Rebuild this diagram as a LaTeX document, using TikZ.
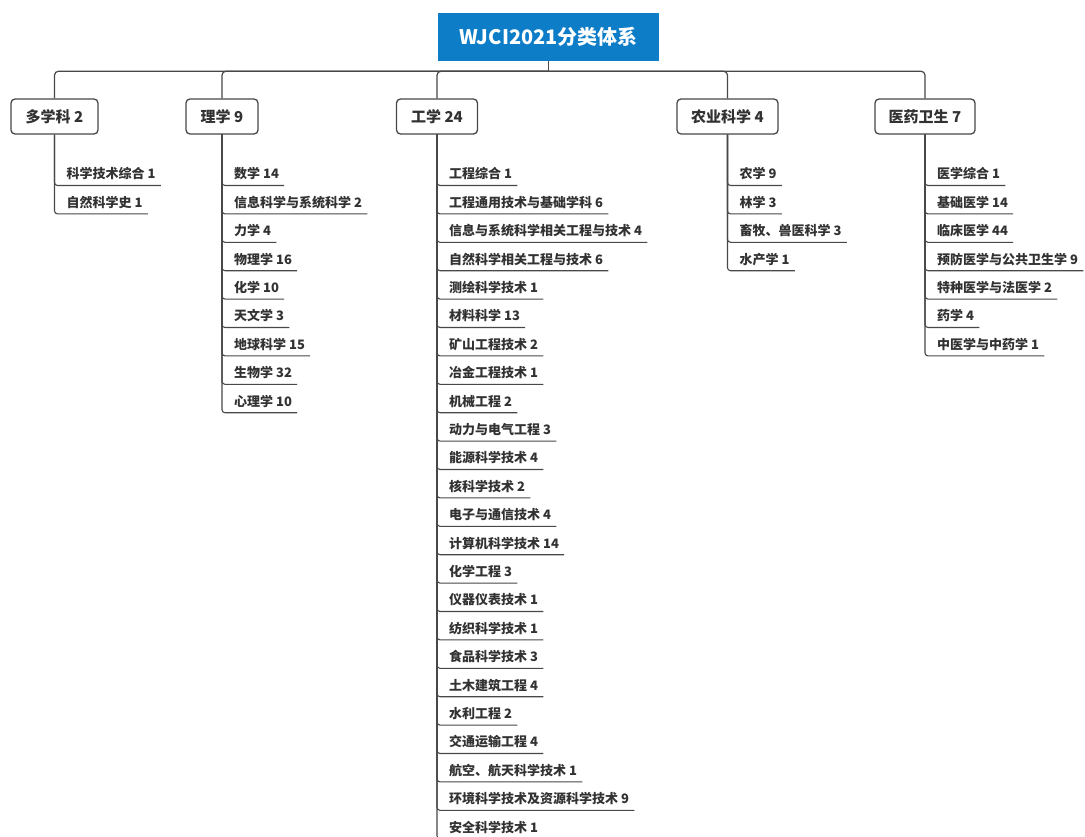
\documentclass[tikz,border=0pt]{standalone}
\usepackage{fontspec}
\setmainfont{Noto Sans CJK SC}
\definecolor{rootblue}{RGB}{14,125,200}
\definecolor{ink}{RGB}{50,50,50}
\definecolor{linec}{RGB}{72,72,72}
\begin{document}
\begin{tikzpicture}[x=1pt,y=-1pt,
  rootbox/.style={fill=rootblue, text=white, font=\fontsize{20}{24}\selectfont\bfseries,
    minimum width=221pt, minimum height=48pt, inner sep=0pt},
  topic/.style={draw=linec, line width=1.3pt, rounded corners=4pt, fill=white, text=ink,
    font=\fontsize{15}{18}\selectfont\bfseries, inner xsep=6pt, minimum height=35pt},
  leaf/.style={text=ink, font=\fontsize{13}{16}\selectfont\bfseries, inner xsep=5pt,
    inner ysep=3.5pt, text height=10pt, text depth=3pt, anchor=south west},
  conn/.style={draw=linec, line width=1.2pt, rounded corners=4pt},
  under/.style={draw=linec, line width=1.1pt, rounded corners=3pt}]
\useasboundingbox[fill=white] (0,0) rectangle (1085,836);

\node[rootbox] (root) at (548.5,37) {WJCI2021分类体系};
\draw[conn] (root.south) -- ++(0,10) coordinate (bus);

\node[topic, minimum width=87pt]  (t1) at (54.5,116.5) {多学科 2};
\node[topic, minimum width=72pt]  (t2) at (222,116.5) {理学 9};
\node[topic, minimum width=81pt]  (t3) at (437,116.5) {工学 24};
\node[topic, minimum width=101pt] (t4) at (727.5,116.5) {农业科学 4};
\node[topic, minimum width=100pt] (t5) at (925,116.5) {医药卫生 7};

\foreach \t in {t1,t2,t3,t4,t5} {
  \draw[conn] (bus) -| (\t.north);
}

% 多学科
\foreach \txt [count=\i from 0] in {科学技术综合 1, 自然科学史 1} {
  \node[leaf] (t1c\i) at (61.5, 185.5+28.4*\i) {\txt};
  \draw[under] (t1.south) |- (t1c\i.south east);
}
% 理学
\foreach \txt [count=\i from 0] in {数学 14, 信息科学与系统科学 2, 力学 4, 物理学 16, 化学 10, 天文学 3, 地球科学 15, 生物学 32, 心理学 10} {
  \node[leaf] (t2c\i) at (229, 185.5+28.4*\i) {\txt};
  \draw[under] (t2.south) |- (t2c\i.south east);
}
% 工学
\foreach \txt [count=\i from 0] in {工程综合 1, 工程通用技术与基础学科 6, 信息与系统科学相关工程与技术 4, 自然科学相关工程与技术 6, 测绘科学技术 1, 材料科学 13, 矿山工程技术 2, 冶金工程技术 1, 机械工程 2, 动力与电气工程 3, 能源科学技术 4, 核科学技术 2, 电子与通信技术 4, 计算机科学技术 14, 化学工程 3, 仪器仪表技术 1, 纺织科学技术 1, 食品科学技术 3, 土木建筑工程 4, 水利工程 2, 交通运输工程 4, 航空、航天科学技术 1, 环境科学技术及资源科学技术 9, 安全科学技术 1} {
  \node[leaf] (t3c\i) at (444, 185.5+28.4*\i) {\txt};
  \draw[under] (t3.south) |- (t3c\i.south east);
}
% 农业科学
\foreach \txt [count=\i from 0] in {农学 9, 林学 3, 畜牧、兽医科学 3, 水产学 1} {
  \node[leaf] (t4c\i) at (734.5, 185.5+28.4*\i) {\txt};
  \draw[under] (t4.south) |- (t4c\i.south east);
}
% 医药卫生
\foreach \txt [count=\i from 0] in {医学综合 1, 基础医学 14, 临床医学 44, 预防医学与公共卫生学 9, 特种医学与法医学 2, 药学 4, 中医学与中药学 1} {
  \node[leaf] (t5c\i) at (932, 185.5+28.4*\i) {\txt};
  \draw[under] (t5.south) |- (t5c\i.south east);
}
\end{tikzpicture}
\end{document}
